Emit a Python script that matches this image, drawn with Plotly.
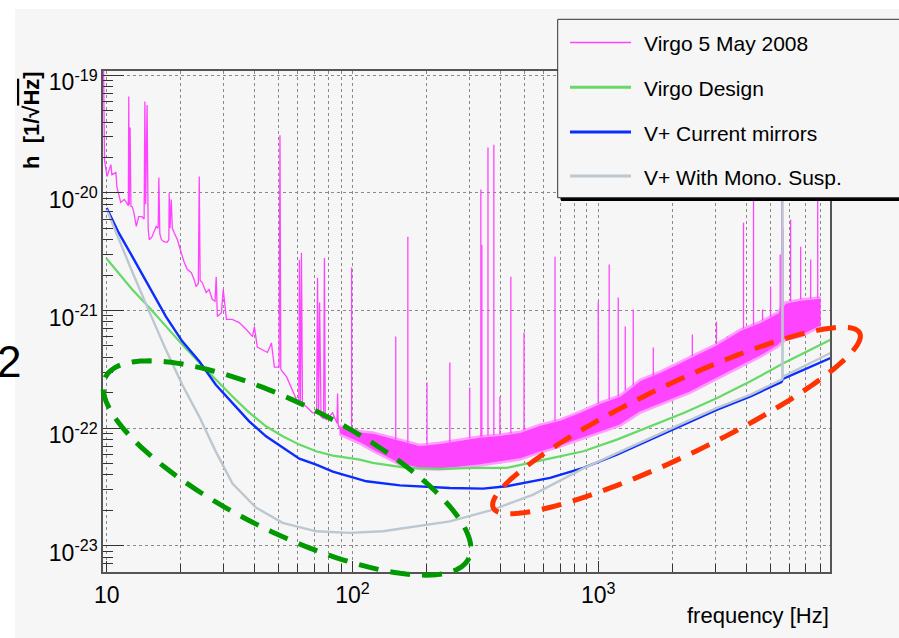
import numpy as np
import plotly.graph_objects as go

# ---------------- data (frequency in Hz, strain in 1/sqrt(Hz)) ----------------
# Virgo 5 May 2008 : low-frequency measured spectrum (thin line, with lines)
virgo_f = [9.7, 9.8, 10.03, 10.4, 10.5, 10.9, 11.0, 11.4, 11.8, 12.1, 12.25, 12.3, 12.35, 12.45,
           12.55, 12.7, 12.9, 13.2, 13.5, 13.9, 14.2, 14.3, 14.4, 14.6, 14.75, 14.9, 15.3, 15.9,
           16.2, 16.3, 16.45, 16.7, 17.1, 17.6, 17.9, 17.96, 18.1, 18.3, 18.5, 18.8, 19.4, 20.1,
           20.7, 21.3, 22.1, 22.7, 23.1, 23.6, 23.8, 24.0, 24.5, 25.4, 26.1, 26.9, 27.6, 27.9,
           28.2, 29.3, 29.8, 30.7, 32.4, 34.6, 37.0, 39.2, 39.9, 41.0, 43.0, 45.1, 46.8, 48.1,
           50.3, 50.7, 51.1, 51.4, 53.9, 57.0, 59.2, 60.5, 60.8, 61.4, 62.0, 62.6, 65.0, 68.8,
           71.5, 72.1, 72.8, 73.5, 74.5, 76.3, 76.9, 77.5, 78.4, 83.0, 86.5, 87.0, 87.5, 88.6]
virgo_h = [1.5e-19, 1.9e-20, 1.38e-20, 1.74e-20, 1.43e-20, 1.49e-20, 1.13e-20, 8.3e-21, 8.8e-21,
           8.0e-21, 7.8e-21, 6.6e-20, 7.9e-21, 3.6e-20, 7.7e-21, 7.65e-21, 6.8e-21, 5.2e-21,
           6.3e-21, 6.3e-21, 6.0e-21, 6.0e-20, 8.0e-21, 5.6e-20, 5.0e-21, 4.0e-21, 4.25e-21,
           5.2e-21, 5.0e-21, 1.35e-20, 4.5e-21, 4.0e-21, 3.85e-21, 3.8e-21, 4.0e-21, 1.0e-20,
           5.0e-21, 8.8e-21, 5.0e-21, 4.6e-21, 4.0e-21, 3.1e-21, 2.55e-21, 2.23e-21, 2.1e-21,
           1.83e-21, 1.6e-21, 1.7e-21, 1.38e-20, 1.8e-21, 1.73e-21, 1.42e-21, 1.51e-21, 1.24e-21,
           1.2e-21, 1.94e-21, 8.9e-22, 9.6e-22, 1.51e-21, 8.4e-22, 8.4e-22, 7.9e-22, 6.9e-22,
           6.0e-22, 7.3e-22, 4.9e-22, 4.65e-22, 4.4e-22, 5.3e-22, 3.3e-22, 3.3e-22, 3.1e-20,
           3.2e-22, 3.1e-22, 2.74e-22, 2.13e-22, 1.75e-22, 1.7e-22, 2.7e-21, 1.7e-22, 3.1e-21,
           1.6e-22, 1.52e-22, 1.35e-22, 1.35e-22, 1.9e-21, 1.3e-22, 1.17e-21, 1.25e-22, 1.2e-22,
           2.8e-21, 1.2e-22, 1.18e-22, 1.35e-22, 1.1e-22, 1.97e-22, 1.05e-22, 1.0e-22]

# Virgo 5 May 2008 : noise band above ~90 Hz (lower / upper envelope)
band_f = [88.6, 107, 121, 156, 188, 227, 273, 330, 398, 480, 580, 699, 844, 1018, 1228,
          1482, 1788, 2370, 3000, 3792, 4576, 5366, 5784, 6660, 8035]
band_lo = [8.8e-23, 7.4e-23, 6.4e-23, 4.9e-23, 4.5e-23, 4.44e-23, 4.61e-23, 4.80e-23,
           5.09e-23, 5.40e-23, 6.19e-23, 6.96e-23, 7.98e-23, 9.16e-23, 1.05e-22, 1.354e-22,
           1.584e-22, 2.0e-22, 2.58e-22, 3.33e-22, 4.05e-22, 4.93e-22, 5.65e-22, 6.0e-22, 7.3e-22]
band_hi = [1.05e-22, 9.4e-23, 9.2e-23, 8.0e-23, 7.2e-23, 7.5e-23, 8.0e-23, 8.5e-23, 8.8e-23,
           9.3e-23, 1.07e-22, 1.18e-22, 1.38e-22, 1.65e-22, 1.9e-22, 2.58e-22, 3.02e-22,
           4.05e-22, 5.13e-22, 6.88e-22, 8.04e-22, 9.6e-22, 1.17e-21, 1.24e-21, 1.29e-21]

# Virgo 5 May 2008 : narrow spectral lines standing above the band
lines_f = [99.2, 150, 168, 201, 249, 300, 333, 336, 356, 376, 398, 441, 499, 667, 1000, 1108,
           1206, 1288, 1388, 1675, 2415, 3027, 3357, 3900, 4284, 4662, 5026, 5500, 5574, 5650,
           6064, 6663, 7318, 7816]
lines_base = [1.0e-22, 8.0e-23, 7.5e-23, 7.3e-23, 7.6e-23, 8.2e-23, 8.5e-23, 8.5e-23, 8.6e-23,
              8.7e-23, 8.8e-23, 9.0e-23, 9.6e-23, 1.15e-22, 1.6e-22, 1.75e-22, 1.85e-22,
              2.1e-22, 2.3e-22, 2.8e-22, 4.1e-22, 5.2e-22, 6.0e-22, 7.0e-22, 7.5e-22, 8.2e-22,
              8.8e-22, 9.5e-22, 1.0e-21, 1.1e-21, 1.2e-21, 1.24e-21, 1.26e-21, 1.28e-21]
lines_peak = [2.32e-21, 6.0e-22, 4.25e-21, 2.44e-22, 3.61e-22, 2.21e-22, 1.07e-20, 3.63e-21,
              2.43e-20, 2.57e-20, 1.85e-22, 1.94e-21, 6.49e-22, 2.87e-21, 1.19e-21, 2.46e-21,
              1.29e-21, 7.3e-22, 1.02e-21, 4.84e-22, 6.24e-22, 8.04e-22, 5.88e-22, 5.59e-21,
              1.2e-20, 1.02e-21, 1.6e-21, 3.0e-21, 3.0e-20, 5.0e-21, 5.93e-21, 3.49e-21,
              2.71e-21, 2.0e-20]

# Virgo Design
design_f = [10, 12.7, 14.9, 17.4, 20.3, 23.8, 27.8, 32.5, 38.0, 44.5, 52.0, 60.8, 71.2, 83.2,
            107, 121, 166, 227, 310, 424, 580, 870, 1191, 1628, 2226, 3047, 4165, 5693, 8828]
design_h = [2.76e-21, 1.51e-21, 1.06e-21, 7.34e-22, 5.13e-22, 3.61e-22, 2.58e-22, 1.86e-22,
            1.355e-22, 1.036e-22, 8.52e-23, 7.24e-23, 6.35e-23, 5.84e-23, 5.40e-23, 5.06e-23,
            4.59e-23, 4.50e-23, 4.59e-23, 4.59e-23, 5.29e-23, 6.35e-23, 7.98e-23, 1.036e-22,
            1.347e-22, 1.806e-22, 2.50e-22, 3.58e-22, 5.65e-22]

# V+ Current mirrors
cur_f = [10, 11.2, 12.7, 14.9, 17.4, 20.3, 23.8, 27.8, 32.5, 38.0, 44.5, 52.0, 60.8, 71.2, 83.2,
         114, 156, 249, 340, 424, 637, 870, 1191, 1628, 2226, 3047, 4165, 5560, 5640, 8828]
cur_h = [7.46e-21, 4.57e-21, 2.89e-21, 1.61e-21, 8.93e-22, 5.47e-22, 3.70e-22, 2.34e-22,
         1.64e-22, 1.142e-22, 8.52e-23, 6.79e-23, 5.50e-23, 4.89e-23, 4.27e-23, 3.53e-23,
         3.26e-23, 3.10e-23, 3.06e-23, 3.20e-23, 3.77e-23, 4.59e-23, 5.95e-23, 7.98e-23,
         1.071e-22, 1.437e-22, 1.864e-22, 2.46e-22, 2.62e-22, 3.95e-22]

# V+ With Mono. Susp.
mono_f = [10, 11.2, 12.7, 14.9, 17.4, 20.3, 23.8, 27.8, 32.5, 40.5, 52.0, 71.2, 97.3, 133, 182,
          249, 374, 544, 870, 1191, 1628, 2226, 3047, 4165, 5560, 5612, 5620, 5628, 5693, 8828]
mono_h = [7.21e-21, 4.01e-21, 2.14e-21, 9.79e-22, 4.65e-22, 2.34e-22, 1.253e-22, 6.31e-23,
          3.37e-23, 2.11e-23, 1.563e-23, 1.326e-23, 1.285e-23, 1.326e-23, 1.462e-23, 1.612e-23,
          2.03e-23, 2.72e-23, 4.55e-23, 6.15e-23, 8.25e-23, 1.107e-22, 1.485e-22, 1.93e-22,
          2.58e-22, 2.62e-22, 5.0e-20, 2.7e-22, 2.76e-22, 4.36e-22]

legend_names = ["Virgo 5 May 2008", "Virgo Design", "V+ Current mirrors", "V+ With Mono. Susp."]
x_tickvals = [10, 100, 1000]
x_ticktext = ["10", "10<sup>2</sup>", "10<sup>3</sup>"]
y_tickvals = [1e-23, 1e-22, 1e-21, 1e-20, 1e-19]
y_ticktext = ["10<sup>-23</sup>", "10<sup>-22</sup>", "10<sup>-21</sup>", "10<sup>-20</sup>", "10<sup>-19</sup>"]

# ---------------- styling / geometry ----------------
W, H = 899, 638
ML, MR, MT, MB = 103, 69, 71, 66
PW, PH = W - ML - MR, H - MT - MB
FONT = "Liberation Sans, Arial, Helvetica, sans-serif"
BG = "#f6f6f6"
C_PINK, C_PINK_L = "#ff44ff", "#ff9dff"
C_GREEN, C_BLUE, C_GRAY = "#66d966", "#0a2cff", "#bcc7d0"


def px(x):
    return (x - ML) / PW


def py(y):
    return (H - MB - y) / PH


def ellipse_path(cx, cy, a, b, ang_deg, n=160):
    t = np.linspace(0, 2 * np.pi, n)
    th = np.deg2rad(ang_deg)
    X = cx + a * np.cos(t) * np.cos(th) - b * np.sin(t) * np.sin(th)
    Y = cy + a * np.cos(t) * np.sin(th) + b * np.sin(t) * np.cos(th)
    pts = [f"{px(xx):.5f},{py(yy):.5f}" for xx, yy in zip(X, Y)]
    return "M " + " L ".join(pts) + " Z"


fig = go.Figure()

# Virgo measured band
fig.add_trace(go.Scatter(x=band_f, y=band_lo, mode="lines", line=dict(color=C_PINK_L, width=2.5),
                         hoverinfo="skip", showlegend=False))
fig.add_trace(go.Scatter(x=band_f, y=band_hi, mode="lines", line=dict(color=C_PINK_L, width=2.5),
                         fill="tonexty", fillcolor=C_PINK, hoverinfo="skip", showlegend=False))
# Virgo low-frequency line
fig.add_trace(go.Scatter(x=virgo_f, y=virgo_h, mode="lines", line=dict(color=C_PINK, width=1.3),
                         name=legend_names[0], showlegend=False))
# spectral lines
sx, sy = [], []
for f, b, p in zip(lines_f, lines_base, lines_peak):
    sx += [f, f, None]
    sy += [b, p, None]
fig.add_trace(go.Scatter(x=sx, y=sy, mode="lines", line=dict(color=C_PINK, width=1.3),
                         hoverinfo="skip", showlegend=False))

fig.add_trace(go.Scatter(x=design_f, y=design_h, mode="lines", line=dict(color=C_GREEN, width=2.2),
                         name=legend_names[1], showlegend=False))
fig.add_trace(go.Scatter(x=cur_f, y=cur_h, mode="lines", line=dict(color=C_BLUE, width=2.4),
                         name=legend_names[2], showlegend=False))
fig.add_trace(go.Scatter(x=mono_f, y=mono_h, mode="lines", line=dict(color=C_GRAY, width=2.4),
                         name=legend_names[3], showlegend=False))

shapes = []
# canvas (grey with white strip on left / top)
shapes.append(dict(type="rect", xref="paper", yref="paper", x0=px(15), x1=px(W + 10),
                   y0=py(H + 10), y1=py(9), fillcolor=BG, line=dict(width=0), layer="below"))
# legend shadow and box
shapes.append(dict(type="rect", xref="paper", yref="paper", x0=px(561), x1=px(W + 20),
                   y0=py(201), y1=py(23), fillcolor="black", line=dict(width=0), layer="above"))
shapes.append(dict(type="rect", xref="paper", yref="paper", x0=px(557.7), x1=px(W + 15),
                   y0=py(197.7), y1=py(19.3), fillcolor=BG, line=dict(color="#333333", width=1),
                   layer="above"))
leg_rows = [42.5, 87.3, 132, 176]
leg_styles = [(C_PINK, 1.5), (C_GREEN, 3), (C_BLUE, 3), (C_GRAY, 3)]
annotations = []
for name, yr, (col, wd) in zip(legend_names, leg_rows, leg_styles):
    shapes.append(dict(type="line", xref="paper", yref="paper", x0=px(570), x1=px(631),
                       y0=py(yr), y1=py(yr), line=dict(color=col, width=wd), layer="above"))
    annotations.append(dict(xref="paper", yref="paper", x=px(642), y=py(yr + 1), xanchor="left",
                            yanchor="middle", text=name, showarrow=False,
                            font=dict(family=FONT, size=21, color="black")))

# dashed ellipses
shapes.append(dict(type="path", xref="paper", yref="paper", path=ellipse_path(287, 468, 203, 64, 26.5),
                   line=dict(color="#009a00", width=5, dash="20px,12px"), layer="above"))
shapes.append(dict(type="path", xref="paper", yref="paper", path=ellipse_path(676.5, 420.5, 203, 36, -25.5),
                   line=dict(color="#ff3300", width=5, dash="20px,12px"), layer="above"))

# axis titles and side text
annotations.append(dict(xref="paper", yref="paper", x=px(32), y=py(69), xanchor="center", yanchor="top",
                        textangle=-90, showarrow=False,
                        text="<b>h  [1/√<span style='text-decoration:overline'>Hz</span>]</b>",
                        font=dict(family=FONT, size=22, color="black")))
annotations.append(dict(xref="paper", yref="paper", x=px(831), y=py(615), xanchor="right", yanchor="middle",
                        showarrow=False, text="frequency [Hz]",
                        font=dict(family=FONT, size=22, color="black")))
annotations.append(dict(xref="paper", yref="paper", x=px(23), y=py(361), xanchor="right", yanchor="middle",
                        showarrow=False, text="2", font=dict(family=FONT, size=44, color="black")))

x_minor = [m * 10 ** e for e in range(0, 4) for m in range(2, 10)]
y_minor = [m * 10.0 ** e for e in range(-24, -18) for m in range(2, 10)]

fig.update_layout(
    width=W, height=H,
    margin=dict(l=ML, r=MR, t=MT, b=MB, pad=0, autoexpand=False),
    paper_bgcolor="white", plot_bgcolor=BG,
    showlegend=False,
    font=dict(family=FONT, size=22, color="black"),
    shapes=shapes, annotations=annotations,
    xaxis=dict(type="log", range=[0.985, 3.943], tickmode="array", tickvals=x_tickvals,
               ticktext=x_ticktext, ticks="inside", ticklen=11, tickwidth=1, tickcolor="#333",
               showline=True, linecolor="#555", linewidth=1.5, mirror=True, automargin=False,
               showgrid=True, gridcolor="#8a8a8a", griddash="dot", gridwidth=1,
               zeroline=False, ticklabelstandoff=2,
               tickfont=dict(family=FONT, size=23, color="black"),
               minor=dict(tickmode="array", tickvals=x_minor, ticks="inside", ticklen=8,
                          tickcolor="#333", showgrid=True, gridcolor="#8a8a8a", griddash="dot",
                          gridwidth=1)),
    yaxis=dict(type="log", range=[-23.2236, -18.963], tickmode="array", tickvals=y_tickvals,
               ticktext=y_ticktext, ticks="inside", ticklen=21, tickwidth=1, tickcolor="#333",
               showline=True, linecolor="#555", linewidth=1.5, mirror=True, automargin=False,
               showgrid=True, gridcolor="#8a8a8a", griddash="dot", gridwidth=1,
               zeroline=False, ticklabelstandoff=-1, ticklabelshift=7,
               tickfont=dict(family=FONT, size=23, color="black"),
               minor=dict(tickmode="array", tickvals=y_minor, ticks="inside", ticklen=10,
                          tickcolor="#333", showgrid=False)),
)

fig.write_html("out.html", config={"displayModeBar": False},
               post_script="document.body.style.margin='0';document.body.style.padding='0';"
                           "document.body.style.overflow='hidden';")
